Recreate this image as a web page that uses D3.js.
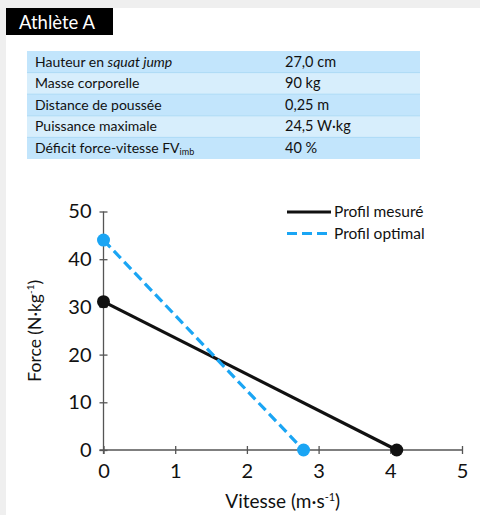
<!DOCTYPE html>
<html>
<head>
<meta charset="utf-8">
<script src="https://cdn.jsdelivr.net/npm/d3@7"></script>
<style>
  html, body { margin: 0; padding: 0; background: #efefef; }
  svg { display: block; font-family: Lato, "Noto Sans", sans-serif; }
</style>
</head>
<body>
<svg id="chart" width="480" height="515"></svg>
<script>
// Athlete summary table
const tableLabels = ["Hauteur en |squat jump|", "Masse corporelle", "Distance de poussée", "Puissance maximale", "Déficit force-vitesse FV_imb"];
const tableValues = ["27,0 cm", "90 kg", "0,25 m", "24,5 W·kg", "40 %"];

// Force-velocity profiles: [velocity, force]
const seriesNames = ["Profil mesuré", "Profil optimal"];
const measured = [[0, 31.1], [4.09, 0]];
const optimal = [[0, 44.0], [2.79, 0]];

// Axis ticks
const xTicks = [0, 1, 2, 3, 4, 5];
const yTicks = [0, 10, 20, 30, 40, 50];

const svg = d3.select("#chart");

// white card
svg.append("rect").attr("x", 6).attr("y", 8).attr("width", 474).attr("height", 507).attr("fill", "#fff");

// title tab
svg.append("rect").attr("x", 6).attr("y", 8).attr("width", 107).attr("height", 27).attr("fill", "#000");
svg.append("text").attr("x", 19).attr("y", 29).attr("fill", "#fff")
  .attr("font-size", 18.5).text("Athlète A");

// table
const tX = 27, tW = 393, tY = 51, rowH = 21.6;
const rowColors = ["#c2e5fc", "#d7eefc"];
const tbl = svg.append("g");
tableLabels.forEach((lab, i) => {
  const y = tY + i * rowH;
  tbl.append("rect").attr("x", tX).attr("y", y).attr("width", tW).attr("height", rowH)
    .attr("fill", rowColors[i % 2]);
  if (i > 0) {
    tbl.append("line").attr("x1", tX).attr("x2", tX + tW).attr("y1", y).attr("y2", y)
      .attr("stroke", "#acdaf6").attr("stroke-width", 1);
  }
  const t = tbl.append("text").attr("x", 35).attr("y", y + 15.5).attr("font-size", 14).attr("fill", "#111");
  if (lab.includes("|")) {
    const parts = lab.split("|");
    t.append("tspan").text(parts[0]);
    t.append("tspan").attr("font-style", "italic").text(parts[1]);
  } else if (lab.includes("_")) {
    const parts = lab.split("_");
    t.append("tspan").text(parts[0]);
    t.append("tspan").attr("font-size", 9).attr("dy", 2).text(parts[1]);
  } else {
    t.text(lab);
  }
  tbl.append("text").attr("x", 285).attr("y", y + 15.5).attr("font-size", 14.5).attr("fill", "#111")
    .text(tableValues[i]);
});

// scales
const x = d3.scaleLinear().domain([0, 5]).range([103.5, 462]);
const y = d3.scaleLinear().domain([0, 50]).range([450, 211.5]);

const axisColor = "#555";

// x axis
const gx = svg.append("g").attr("transform", `translate(0,${y(0)})`)
  .call(d3.axisBottom(x).tickValues(xTicks).tickSize(0).tickPadding(14).tickFormat(d3.format("d")));
gx.select(".domain").remove();
gx.append("line").attr("x1", x(0) - 4).attr("x2", x(5)).attr("stroke", axisColor).attr("stroke-width", 1.3);
gx.selectAll(".tick").append("line").attr("y1", -4).attr("y2", 4).attr("stroke", axisColor).attr("stroke-width", 1.3);
gx.selectAll(".tick text").attr("font-size", 20).attr("fill", "#111").attr("font-family", "Lato, sans-serif").attr("dy", "0.71em");

// y axis
const gy = svg.append("g").attr("transform", `translate(${x(0)},0)`)
  .call(d3.axisLeft(y).tickValues(yTicks).tickSize(0).tickPadding(12).tickFormat(d3.format("d")));
gy.select(".domain").remove();
gy.append("line").attr("y1", y(0) + 4).attr("y2", y(50)).attr("stroke", axisColor).attr("stroke-width", 1.3);
gy.selectAll(".tick").append("line").attr("x1", -4).attr("x2", 4).attr("stroke", axisColor).attr("stroke-width", 1.3);
gy.selectAll(".tick text").attr("font-size", 20).attr("fill", "#111").attr("font-family", "Lato, sans-serif");

// axis titles
const xt = svg.append("text").attr("x", x(2.5)).attr("y", 508).attr("text-anchor", "middle")
  .attr("font-size", 19).attr("fill", "#111");
xt.append("tspan").text("Vitesse (m·s");
xt.append("tspan").attr("font-size", 11).attr("dy", -7).text("-1");
xt.append("tspan").attr("dy", 7).text(")");

const yt = svg.append("text").attr("transform", `translate(41,${(y(0) + y(50)) / 2}) rotate(-90)`)
  .attr("text-anchor", "middle").attr("font-size", 17.5).attr("fill", "#111");
yt.append("tspan").text("Force (N·kg");
yt.append("tspan").attr("font-size", 10).attr("dy", -7).text("-1");
yt.append("tspan").attr("dy", 7).text(")");

// profile lines
const line = d3.line().x(d => x(d[0])).y(d => y(d[1]));
const blue = "#1aa5f4";
const styles = [
  { data: measured, color: "#111", dash: null },
  { data: optimal, color: blue, dash: "10,5" }
];
// draw measured first, then optimal on top
styles.forEach(s => {
  svg.append("path").datum(s.data).attr("d", line).attr("fill", "none")
    .attr("stroke", s.color).attr("stroke-width", 3.2).attr("stroke-dasharray", s.dash);
});
styles.forEach(s => {
  svg.selectAll(null).data(s.data).enter().append("circle")
    .attr("cx", d => x(d[0])).attr("cy", d => y(d[1])).attr("r", 6.5).attr("fill", s.color);
});

// legend
const lg = svg.append("g");
styles.forEach((s, i) => {
  const ly = 212 + i * 21.5;
  lg.append("line").attr("x1", 287).attr("x2", 331).attr("y1", ly).attr("y2", ly)
    .attr("stroke", s.color).attr("stroke-width", 3.2).attr("stroke-dasharray", s.dash);
  lg.append("text").attr("x", 334).attr("y", ly + 5).attr("font-size", 15.5).attr("fill", "#111")
    .text(seriesNames[i]);
});
</script>
</body>
</html>
